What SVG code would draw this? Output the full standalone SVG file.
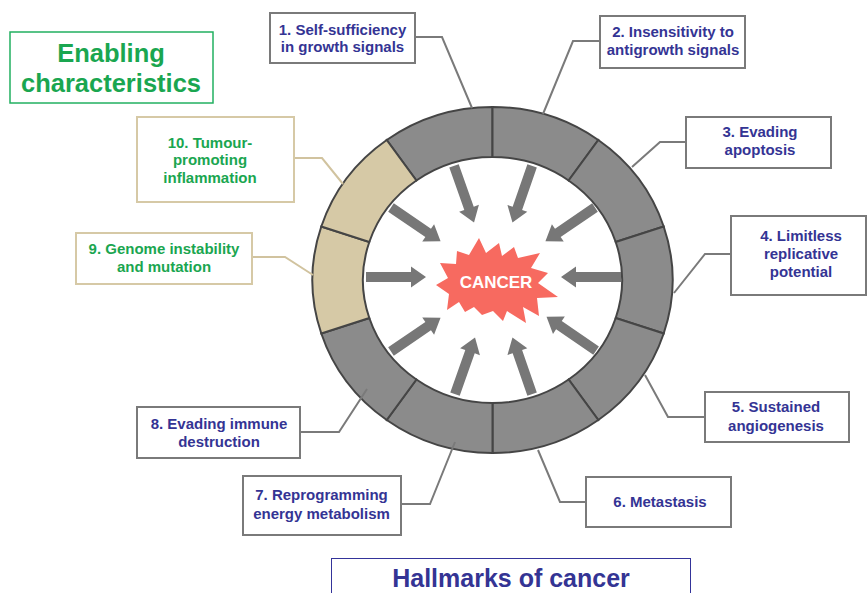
<svg xmlns="http://www.w3.org/2000/svg" xmlns:xlink="http://www.w3.org/1999/xlink" width="867" height="593" viewBox="0 0 867 593">
<style>
text{font-family:"Liberation Sans",Arial,sans-serif;font-weight:bold;text-anchor:middle}
.hb{fill:#fff;stroke:#7a7a7a;stroke-width:2}
.eb{fill:#fff;stroke:#d6c9a6;stroke-width:2}
.ht{fill:#343494;font-size:15px}
.et{fill:#1aa650;font-size:15px}
.seg{fill:#8b8b8b;stroke:#454545;stroke-width:2}
.tan{fill:#d6c9a6;stroke:#454545;stroke-width:2}
.con{fill:none;stroke:#7a7a7a;stroke-width:2}
.econ{fill:none;stroke:#d1c39f;stroke-width:2}
.arr{fill:#777}
</style>
<defs>
<polygon id="arrow" points="0,-5 45,-5 45,-10.5 60,0 45,10.5 45,5 0,5"/>
</defs>
<rect width="867" height="593" fill="#fff"/>

<g id="ring">
<path class="seg" d="M492.5,107 A180,173 0 0 0 386.7,140 L416.4,180.5 A129.5,123 0 0 1 492.5,157 Z"/>
<path class="seg" d="M598.3,140 A180,173 0 0 0 492.5,107 L492.5,157 A129.5,123 0 0 1 568.6,180.5 Z"/>
<path class="seg" d="M663.7,226.5 A180,173 0 0 0 598.3,140 L568.6,180.5 A129.5,123 0 0 1 615.7,242 Z"/>
<path class="seg" d="M663.7,333.5 A180,173 0 0 0 663.7,226.5 L615.7,242 A129.5,123 0 0 1 615.7,318 Z"/>
<path class="seg" d="M598.3,420 A180,173 0 0 0 663.7,333.5 L615.7,318 A129.5,123 0 0 1 568.6,379.5 Z"/>
<path class="seg" d="M492.5,453 A180,173 0 0 0 598.3,420 L568.6,379.5 A129.5,123 0 0 1 492.5,403 Z"/>
<path class="seg" d="M386.7,420 A180,173 0 0 0 492.5,453 L492.5,403 A129.5,123 0 0 1 416.4,379.5 Z"/>
<path class="seg" d="M321.3,333.5 A180,173 0 0 0 386.7,420 L416.4,379.5 A129.5,123 0 0 1 369.3,318 Z"/>
<path class="tan" d="M321.3,226.5 A180,173 0 0 0 321.3,333.5 L369.3,318 A129.5,123 0 0 1 369.3,242 Z"/>
<path class="tan" d="M386.7,140 A180,173 0 0 0 321.3,226.5 L369.3,242 A129.5,123 0 0 1 416.4,180.5 Z"/>
</g>

<g id="arrows" class="arr">
<use xlink:href="#arrow" href="#arrow" transform="translate(454,165.9) rotate(70.5)"/>
<use xlink:href="#arrow" href="#arrow" transform="translate(532.1,165.9) rotate(109.1)"/>
<use xlink:href="#arrow" href="#arrow" transform="translate(595,207.5) rotate(145.7)"/>
<use xlink:href="#arrow" href="#arrow" transform="translate(621,277) rotate(180)"/>
<use xlink:href="#arrow" href="#arrow" transform="translate(596.1,350.6) rotate(214.3)"/>
<use xlink:href="#arrow" href="#arrow" transform="translate(532.1,394.1) rotate(250.9)"/>
<use xlink:href="#arrow" href="#arrow" transform="translate(455,394.1) rotate(289.5)"/>
<use xlink:href="#arrow" href="#arrow" transform="translate(391,351.5) rotate(325.7)"/>
<use xlink:href="#arrow" href="#arrow" transform="translate(366,277) rotate(0)"/>
<use xlink:href="#arrow" href="#arrow" transform="translate(391,207.5) rotate(34.3)"/>
</g>

<g id="cancer">
<polygon fill="#f76a60" points="479,238 486,253 499,243 502,256 514,247 518,258 540,253 531,268 548,273 538,283 558,297 537,298 539,316 523,307 526,323 507,311 503,321 493,311 482,315 474,307 465,312 459,302 447,310 449,294 436,285 448,278 440,263 456,264 457,251 469,255"/>
<text x="496" y="288" fill="#fff" font-size="17">CANCER</text>
</g>

<g id="connectors">
<polyline class="con" points="415,37 442,37 472,108"/>
<polyline class="con" points="600,41 573,41 543,114"/>
<polyline class="con" points="686,142 660,142 632,167"/>
<polyline class="con" points="731,254 705,254 674,293"/>
<polyline class="con" points="705,417 668,417 645,375"/>
<polyline class="con" points="586,502 560,502 538,450"/>
<polyline class="con" points="401,504 430,504 455,442"/>
<polyline class="con" points="300,432 339,432 367,389"/>
<polyline class="econ" points="294,158 322,158 343,184"/>
<polyline class="econ" points="252,257 285,257 313,275"/>
</g>

<g id="enabling">
<rect x="10" y="32" width="203" height="71" fill="#fff" stroke="#22b060" stroke-width="1.5"/>
<text x="111" y="62" fill="#1aa650" font-size="25.5">Enabling</text>
<text x="111" y="92" fill="#1aa650" font-size="25.5">characteristics</text>
</g>

<g id="h1">
<rect class="hb" x="270" y="13" width="145" height="50"/>
<text class="ht" x="342.5" y="34.5">1. Self-sufficiency</text>
<text class="ht" x="342.5" y="52">in growth signals</text>
</g>
<g id="h2">
<rect class="hb" x="600" y="16" width="145" height="52"/>
<text class="ht" x="673" y="37">2. Insensitivity to</text>
<text class="ht" x="673" y="55">antigrowth signals</text>
</g>
<g id="h3">
<rect class="hb" x="686" y="117" width="145" height="51"/>
<text class="ht" x="760" y="137">3. Evading</text>
<text class="ht" x="760" y="155">apoptosis</text>
</g>
<g id="h4">
<rect class="hb" x="731" y="216" width="135" height="79"/>
<text class="ht" x="801" y="240.5">4. Limitless</text>
<text class="ht" x="801" y="258.5">replicative</text>
<text class="ht" x="801" y="277">potential</text>
</g>
<g id="h5">
<rect class="hb" x="705" y="392" width="144" height="50"/>
<text class="ht" x="776" y="412">5. Sustained</text>
<text class="ht" x="776" y="430.5">angiogenesis</text>
</g>
<g id="h6">
<rect class="hb" x="586" y="477" width="145" height="50"/>
<text class="ht" x="660" y="507">6. Metastasis</text>
</g>
<g id="h7">
<rect class="hb" x="243" y="476" width="158" height="59"/>
<text class="ht" x="321.5" y="500">7. Reprogramming</text>
<text class="ht" x="321.5" y="518.5">energy metabolism</text>
</g>
<g id="h8">
<rect class="hb" x="137" y="407" width="163" height="51"/>
<text class="ht" x="219" y="428.5">8. Evading immune</text>
<text class="ht" x="219" y="447">destruction</text>
</g>
<g id="e9">
<rect class="eb" x="76" y="233" width="176" height="51"/>
<text class="et" x="164" y="253.5">9. Genome instability</text>
<text class="et" x="164" y="271.5">and mutation</text>
</g>
<g id="e10">
<rect class="eb" x="137" y="117" width="157" height="85"/>
<text class="et" x="210" y="147.5">10. Tumour-</text>
<text class="et" x="210" y="165">promoting</text>
<text class="et" x="210" y="182.5">inflammation</text>
</g>
<g id="hallmarks">
<rect x="331.5" y="558.5" width="359" height="40" fill="#fff" stroke="#34349a" stroke-width="1"/>
<text x="511" y="587" fill="#343494" font-size="25">Hallmarks of cancer</text>
</g>
</svg>
